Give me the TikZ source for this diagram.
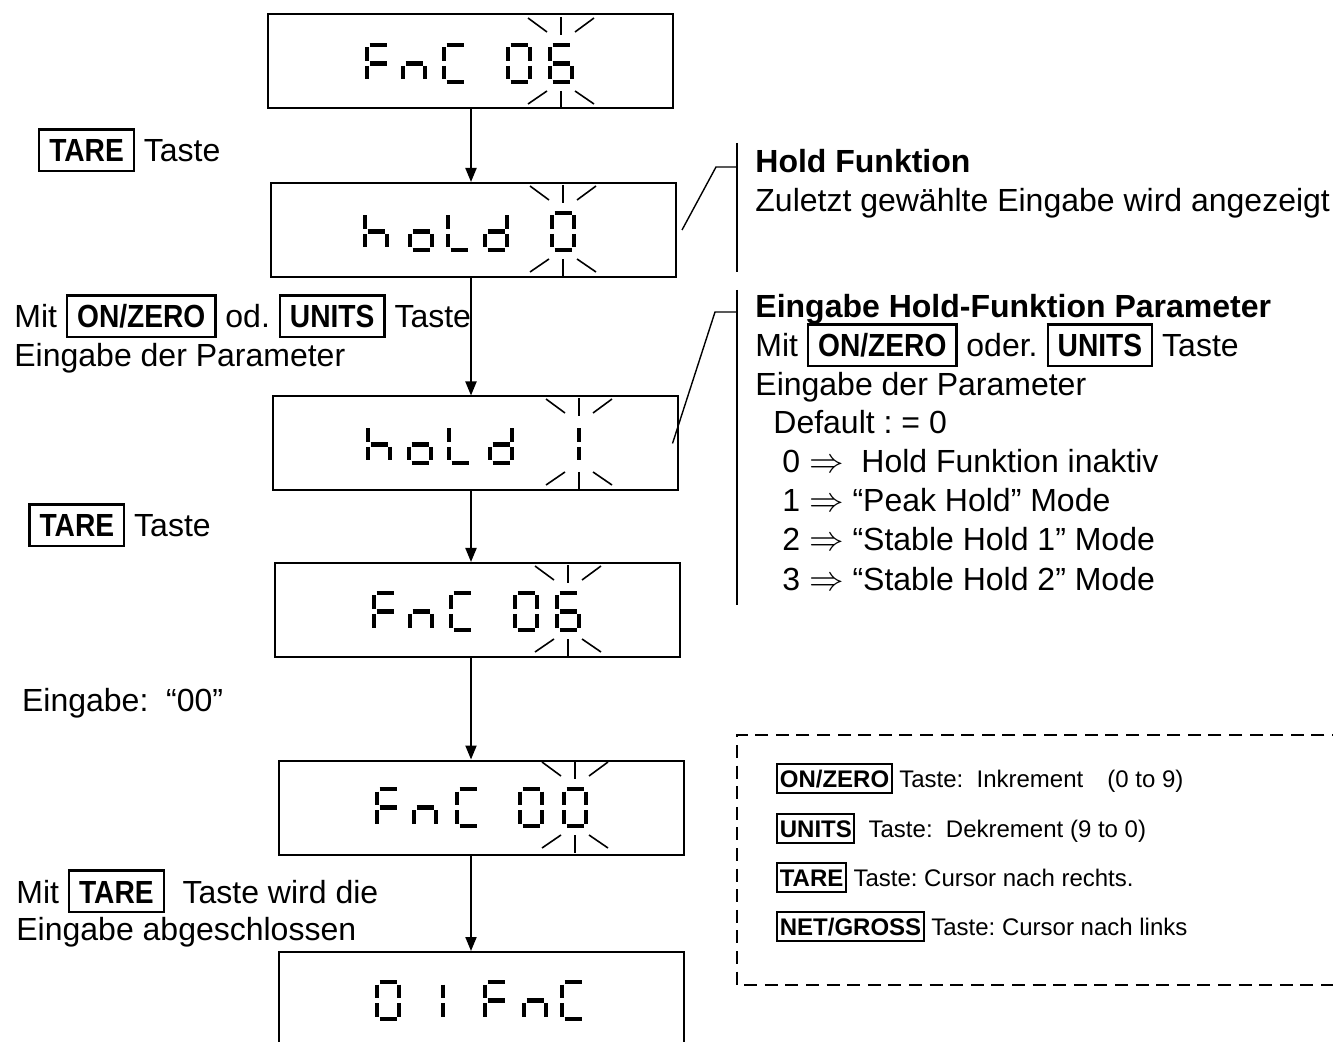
\documentclass[tikz,border=0pt]{standalone}
\usepackage{fontspec}
\setmainfont{Liberation Sans}
\newfontfamily\keyfont{Liberation Sans}[FakeStretch=0.88]
\usetikzlibrary{arrows.meta, positioning}
\frenchspacing

% framed key names
\newcommand{\keybox}[1]{{\setlength{\fboxsep}{0pt}\setlength{\fboxrule}{1.1pt}%
  \fbox{\rule[-0.24em]{0pt}{1.22em}\hspace{0.28em}{\keyfont\bfseries #1}\hspace{0.28em}}}}
\newcommand{\keysmall}[1]{{\setlength{\fboxsep}{0pt}\setlength{\fboxrule}{1pt}%
  \fbox{\rule[-0.2em]{0pt}{1.12em}\hspace{0.06em}{\bfseries #1}\hspace{0.06em}}}}

% seven-segment cell, 26 x 41 px
\newcommand{\lcdsega}{(4.5,2) -- (21.5,2)}
\newcommand{\lcdsegb}{(24,4.5) -- (24,18)}
\newcommand{\lcdsegc}{(24,23) -- (24,36.5)}
\newcommand{\lcdsegd}{(4.5,39) -- (21.5,39)}
\newcommand{\lcdsege}{(2,23) -- (2,36.5)}
\newcommand{\lcdsegf}{(2,4.5) -- (2,18)}
\newcommand{\lcdsegg}{(4.5,20.5) -- (21.5,20.5)}
\newcommand{\lcdchar}[3]{%
  \foreach \s in {#3}{%
    \edef\segpath{\csname lcdseg\s\endcsname}%
    \draw[segment, shift={(#1,#2)}] \segpath;}%
}
% blinking marks round a digit (centre x, top y)
\newcommand{\blink}[2]{%
  \draw[blinkray] (#1-33,#2-25) -- (#1-14,#2-11);
  \draw[blinkray] (#1,#2-26) -- (#1,#2-8);
  \draw[blinkray] (#1+14,#2-11) -- (#1+33,#2-25);
  \draw[blinkray] (#1-33,#2+61) -- (#1-14,#2+48);
  \draw[blinkray] (#1,#2+48) -- (#1,#2+66);
  \draw[blinkray] (#1+14,#2+48) -- (#1+33,#2+61);
}

\tikzset{
  lcd/.style={draw, line width=1pt, minimum width=202.5pt, minimum height=47pt, inner sep=0pt},
  segment/.style={line width=2.3pt},
  blinkray/.style={line width=0.8pt},
  flow/.style={-{Triangle[length=7pt,width=5.5pt]}, line width=1pt},
  leader/.style={line width=0.7pt},
  bracket/.style={line width=0.8pt},
  legendframe/.style={line width=1.1pt, dash pattern=on 6.5pt off 3.8pt},
  note/.style={font=\fontsize{16}{19}\selectfont, inner sep=0pt, anchor=base west},
  head/.style={note, font=\fontsize{16}{19}\selectfont\bfseries},
  legend/.style={font=\fontsize{12}{14}\selectfont, inner sep=0pt, anchor=base west}
}

\begin{document}
\begin{tikzpicture}[x=0.5pt, y=-0.5pt]
  \useasboundingbox (0,0) rectangle (1333,1042);

  % displays
  \node[lcd] (lcdA) at (470.5,61.5) {};
  \node[lcd] (lcdB) at (473.5,230) {};
  \node[lcd] (lcdC) at (475,443.5) {};
  \node[lcd] (lcdD) at (477.5,610) {};
  \node[lcd] (lcdE) at (481.5,807.5) {};
  \node[lcd] (lcdF) at (481.5,999) {};

  % FnC 06
  \lcdchar{365}{43}{a,e,f,g} \lcdchar{401}{43}{c,e,g} \lcdchar{442}{43}{a,d,e,f}
  \lcdchar{506}{43}{a,b,c,d,e,f} \lcdchar{548}{43}{a,c,d,e,f,g}
  \blink{561}{43}
  % hold 0
  \lcdchar{363}{211}{c,e,f,g} \lcdchar{408}{211}{c,d,e,g} \lcdchar{446}{211}{d,e,f}
  \lcdchar{483}{211}{b,c,d,e,g} \lcdchar{550}{211}{a,b,c,d,e,f}
  \blink{563}{211}
  % hold 1
  \lcdchar{366}{424}{c,e,f,g} \lcdchar{407}{424}{c,d,e,g} \lcdchar{447}{424}{d,e,f}
  \lcdchar{488}{424}{b,c,d,e,g} \lcdchar{555}{424}{b,c}
  \blink{579}{424}
  % FnC 06
  \lcdchar{372}{591}{a,e,f,g} \lcdchar{408}{591}{c,e,g} \lcdchar{449}{591}{a,d,e,f}
  \lcdchar{513}{591}{a,b,c,d,e,f} \lcdchar{555}{591}{a,c,d,e,f,g}
  \blink{568}{591}
  % FnC 00
  \lcdchar{375}{787}{a,e,f,g} \lcdchar{412}{787}{c,e,g} \lcdchar{455}{787}{a,d,e,f}
  \lcdchar{518}{787}{a,b,c,d,e,f} \lcdchar{562}{787}{a,b,c,d,e,f}
  \blink{575}{787}
  % 01 FnC
  \lcdchar{375}{980}{a,b,c,d,e,f} \lcdchar{419}{980}{b,c} \lcdchar{483}{980}{a,e,f,g}
  \lcdchar{522}{980}{c,e,g} \lcdchar{560}{980}{a,d,e,f}

  % flow arrows
  \coordinate (spine) at (471,0);
  \foreach \a/\b in {lcdA/lcdB, lcdB/lcdC, lcdC/lcdD, lcdD/lcdE, lcdE/lcdF}
    \draw[flow] (\a.south -| spine) -- (\b.north -| spine);

  % left labels
  \node[note] (tareA) at (37.7,162) {\keybox{TARE} Taste};
  \node[note] (keysA) at (14,328) {Mit \keybox{ON/ZERO} od. \keybox{UNITS} Taste};
  \node[note] (paramA) at (14,366.5) {Eingabe der Parameter};
  \node[note] (tareB) at (28,537) {\keybox{TARE} Taste};
  \node[note] (input) at (21.7,711.7) {Eingabe:\ \ “00”};
  \node[note] (tareC) at (16,903) {Mit \keybox{TARE}\ \ Taste wird die};
  \node[note] (done) at (16,940) {Eingabe abgeschlossen};

  % callout: hold function
  \draw[bracket] (737,143) -- (737,272);
  \draw[leader] ([xshift=2.5pt]lcdB.east) -- (716,167) -- (737,167);
  \node[head] (holdHead) at (755,173) {Hold Funktion};
  \node[note] (holdText) at (755,212) {Zuletzt gewählte Eingabe wird angezeigt};

  % callout: parameter
  \draw[bracket] (737,290) -- (737,605);
  \draw[leader] ([xshift=-3pt]lcdC.east) -- (715,312) -- (737,312);
  \node[head] (parHead) at (755,318) {Eingabe Hold-Funktion Parameter};
  \node[note] (parKeys) at (755,357) {Mit \keybox{ON/ZERO} oder. \keybox{UNITS} Taste};
  \node[note] (parText) at (755,396) {Eingabe der Parameter};
  \node[note] (parDef) at (773,434) {Default : = 0};
  \node[note] (mode0) at (782,473) {0 $\Rightarrow$\ \ Hold Funktion inaktiv};
  \node[note] (mode1) at (782,512) {1 $\Rightarrow$ “Peak Hold” Mode};
  \node[note] (mode2) at (782,551) {2 $\Rightarrow$ “Stable Hold 1” Mode};
  \node[note] (mode3) at (782,590) {3 $\Rightarrow$ “Stable Hold 2” Mode};

  % key legend
  \draw[legendframe] (1345,735) -- (737,735) -- (737,985) -- (1345,985);
  \node[legend] (keyOn) at (776,787) {\keysmall{ON/ZERO} Taste:\ \ Inkrement\hspace{1em}(0 to 9)};
  \node[legend] (keyUnits) at (776,837) {\keysmall{UNITS}\ \ Taste:\ \ Dekrement (9 to 0)};
  \node[legend] (keyTare) at (776,886) {\keysmall{TARE} Taste: Cursor nach rechts.};
  \node[legend] (keyNet) at (776,935) {\keysmall{NET/GROSS} Taste: Cursor nach links};
\end{tikzpicture}
\end{document}
